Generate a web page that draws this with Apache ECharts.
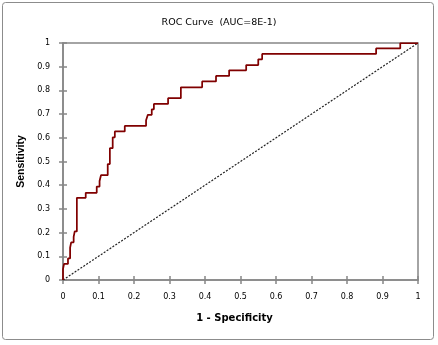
<!DOCTYPE html>
<html>
<head>
<meta charset="utf-8">
<script src="https://cdn.jsdelivr.net/npm/echarts@6/dist/echarts.min.js"></script>
<style>
  html, body { margin: 0; padding: 0; background: #fff; }
  #chart { width: 438px; height: 345px; }
</style>
</head>
<body>
<div id="chart"></div>
<script>
// ROC curve corner points (1 - specificity, sensitivity)
const rocFpr = [0, 0, 0.003, 0.014, 0.02, 0.023, 0.03, 0.033, 0.039, 0.064, 0.095, 0.103, 0.107, 0.126, 0.132, 0.14, 0.146, 0.174, 0.234, 0.239, 0.25, 0.256, 0.296, 0.332, 0.392, 0.431, 0.468, 0.516, 0.55, 0.561, 0.882, 0.95, 1];
const rocTpr = [0, 0.046, 0.068, 0.091, 0.136, 0.159, 0.182, 0.205, 0.347, 0.368, 0.394, 0.418, 0.442, 0.489, 0.556, 0.602, 0.627, 0.65, 0.674, 0.697, 0.72, 0.743, 0.767, 0.813, 0.838, 0.861, 0.885, 0.907, 0.931, 0.954, 0.977, 1, 1];
// Reference (random classifier) diagonal
const refFpr = [0, 1];
const refTpr = [0, 1];
const chartTitle = 'ROC Curve  (AUC=8E-1)';
const xName = '1 - Specificity';
const yName = 'Sensitivity';

const chart = echarts.init(document.getElementById('chart'), null, { renderer: 'canvas' });

const axisColor = '#868686';
const baseAxis = {
  type: 'value', min: 0, max: 1, interval: 0.1,
  splitLine: { show: false }
};

const option = {
  animation: false,
  backgroundColor: '#fff',
  title: {
    text: chartTitle,
    left: 'center',
    top: 13,
    textStyle: { fontFamily: 'DejaVu Sans', fontSize: 9.5, fontWeight: 'normal', color: '#000' }
  },
  graphic: [{
    type: 'rect',
    shape: { x: 2.5, y: 2.5, width: 431, height: 337, r: 3 },
    style: { fill: 'none', stroke: '#8c8c8c', lineWidth: 1 },
    silent: true
  }],
  grid: {
    left: 63, top: 43, width: 355, height: 237,
    show: true, borderColor: axisColor, borderWidth: 1.5, backgroundColor: 'transparent'
  },
  xAxis: [
    Object.assign({}, baseAxis, {
      position: 'bottom',
      name: xName, nameLocation: 'middle', nameGap: 33,
      nameTextStyle: { fontFamily: 'DejaVu Sans', fontWeight: 'bold', fontSize: 10, color: '#000', padding: [0, 12, 0, 0] },
      axisLine: { show: true, lineStyle: { color: axisColor, width: 1.5 } },
      axisTick: { show: true, inside: false, length: 4, lineStyle: { color: axisColor, width: 1.5 } },
      axisLabel: { fontFamily: 'DejaVu Sans', fontSize: 8, color: '#000', margin: 13, showMinLabel: true, showMaxLabel: true }
    }),
    Object.assign({}, baseAxis, {
      position: 'bottom',
      axisLine: { show: false },
      axisTick: { show: true, inside: true, length: 4, lineStyle: { color: axisColor, width: 1.5 } },
      axisLabel: { show: false }
    })
  ],
  yAxis: [
    Object.assign({}, baseAxis, {
      position: 'left',
      name: yName, nameLocation: 'middle', nameGap: 30,
      nameTextStyle: { fontFamily: 'Liberation Sans', fontWeight: 'bold', fontSize: 10.5, color: '#000' },
      axisLine: { show: true, lineStyle: { color: axisColor, width: 1.5 } },
      axisTick: { show: true, inside: false, length: 4, lineStyle: { color: axisColor, width: 1.5 } },
      axisLabel: { fontFamily: 'DejaVu Sans', fontSize: 8, color: '#000', margin: 13, showMinLabel: true, showMaxLabel: true }
    }),
    Object.assign({}, baseAxis, {
      position: 'left',
      axisLine: { show: false },
      axisTick: { show: true, inside: true, length: 4, lineStyle: { color: axisColor, width: 1.5 } },
      axisLabel: { show: false }
    })
  ],
  series: [
    {
      type: 'line',
      xAxisIndex: 0, yAxisIndex: 0,
      data: refFpr.map((x, i) => [x, refTpr[i]]),
      showSymbol: false,
      lineStyle: { color: '#222222', width: 1.2, type: [2, 1.5] },
      silent: true
    },
    {
      type: 'line',
      xAxisIndex: 0, yAxisIndex: 0,
      data: rocFpr.map((x, i) => [x, rocTpr[i]]),
      step: 'end',
      showSymbol: false,
      lineStyle: { color: '#800000', width: 1.75 },
      silent: true
    }
  ]
};

chart.setOption(option);
</script>
</body>
</html>
